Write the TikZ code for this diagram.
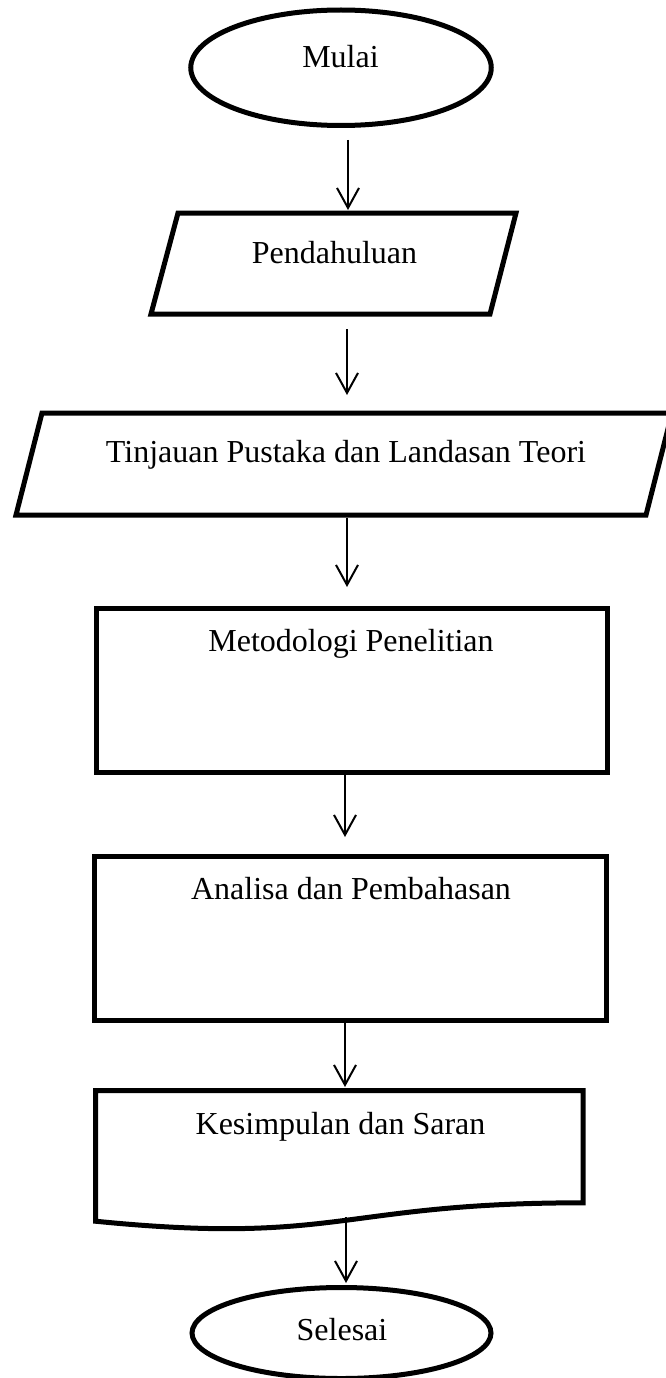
\documentclass[tikz,border=0pt]{standalone}
\usepackage{fontspec}
\setmainfont{Liberation Serif}
\usetikzlibrary{shapes.geometric,arrows.meta,calc}
\begin{document}
\begin{tikzpicture}[x=1pt,y=-1pt,
  shp/.style={draw=black,line width=5pt,inner sep=0pt,outer sep=0pt},
  term/.style={shp,ellipse},
  procbox/.style={shp,rectangle},
  frame/.style={inner sep=0pt,outer sep=0pt,rectangle},
  outline/.style={line width=5pt,line join=miter},
  txt/.style={font=\fontsize{32}{38}\selectfont,anchor=base,inner sep=0pt},
  arr/.style={line width=2pt,-{Straight Barb[length=20pt,width=22pt,line width=2pt]}}]
\useasboundingbox (0,0) rectangle (665,1378);
% shapes
\node[term,minimum width=300.5pt,minimum height=115.5pt] (mulai) at (341,67.75) {};
\node[frame,minimum width=365pt,minimum height=101pt] (pend) at (333.5,263.5) {};
\draw[outline] ($(pend.north west)+(27,0)$) -- (pend.north east)
  -- ($(pend.south east)+(-26,0)$) -- (pend.south west) -- cycle;
\node[frame,minimum width=656pt,minimum height=102pt] (tinj) at (344,464) {};
\draw[outline] ($(tinj.north west)+(26,0)$) -- (tinj.north east)
  -- ($(tinj.south east)+(-26,0)$) -- (tinj.south west) -- cycle;
\node[procbox,minimum width=511.5pt,minimum height=164pt] (metod) at (351.75,690.5) {};
\node[procbox,minimum width=511.5pt,minimum height=164pt] (anal) at (350.25,938.5) {};
\node[frame,minimum width=487.5pt,minimum height=140pt] (kes) at (339.25,1160.5) {};
\draw[outline] (kes.north west) -- (kes.north east)
  -- ($(kes.north east)+(0,112.3)$)
  .. controls ($(kes.north)+(0,112.3)$) and ($(kes.north)+(0,155)$) ..
  ($(kes.north west)+(0,130.7)$) -- cycle;
\node[term,minimum width=299pt,minimum height=91pt] (sel) at (341.5,1333) {};
% texts
\node[txt] (tmulai) at (340.5,68) {Mulai};
\node[txt] (tpend) at (334.5,263) {Pendahuluan};
\node[txt] (ttinj) at (346,462.5) {Tinjauan Pustaka dan Landasan Teori};
\node[txt] (tmetod) at (351,651) {Metodologi Penelitian};
\node[txt] (tanal) at (351,899) {Analisa dan Pembahasan};
\node[txt] (tkes) at (340.5,1134) {Kesimpulan dan Saran};
\node[txt] (tsel) at (342,1340.5) {Selesai};
% connectors
\draw[arr,shorten <=14.5pt,shorten >=3pt] ([xshift=7pt]mulai.south) -- ([xshift=14.5pt]pend.north);
\draw[arr,shorten <=15pt,shorten >=18pt] ([xshift=13.5pt]pend.south) -- ([xshift=3pt]tinj.north);
\draw[arr,shorten <=3pt,shorten >=21.5pt] ([xshift=3pt]tinj.south) -- ([xshift=-4.75pt]metod.north);
\draw[arr,shorten <=0.5pt,shorten >=19.5pt] ([xshift=-6.75pt]metod.south) -- ([xshift=-5.25pt]anal.north);
\draw[arr,shorten <=0.5pt,shorten >=3.5pt] ([xshift=-5.25pt]anal.south) -- ([xshift=5.75pt]kes.north);
\draw[arr,shorten >=4.5pt] ([xshift=6.75pt,yshift=13.5pt]kes.south) -- ([xshift=4.5pt]sel.north);
\end{tikzpicture}
\end{document}
